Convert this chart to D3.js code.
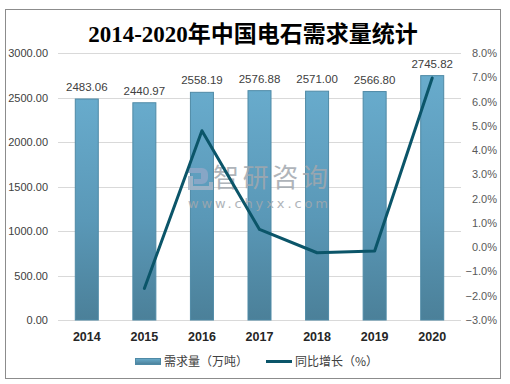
<!DOCTYPE html>
<html><head><meta charset="utf-8">
<script src="https://cdn.jsdelivr.net/npm/d3@7/dist/d3.min.js"></script>
<style>
html,body{margin:0;padding:0;background:#fff;}
svg{display:block;}
</style></head>
<body>
<svg id="chart" width="510" height="384"></svg>
<script>
const years = ["2014","2015","2016","2017","2018","2019","2020"];
const demand = [2483.06, 2440.97, 2558.19, 2576.88, 2571.00, 2566.80, 2745.82];
const growthYears = ["2015","2016","2017","2018","2019","2020"];
const growth = [-1.70, 4.80, 0.73, -0.23, -0.16, 6.97];
const leftTicks = [0, 500, 1000, 1500, 2000, 2500, 3000];
const rightTicks = [-3, -2, -1, 0, 1, 2, 3, 4, 5, 6, 7, 8];
const title = "2014-2020年中国电石需求量统计";
const legendLabels = ["需求量（万吨）", "同比增长（%）"];

const svg = d3.select("#chart");
const plot = {l: 58, r: 461, t: 53, b: 320};

// border
svg.append("rect").attr("x", 5.5).attr("y", 9.5).attr("width", 495).attr("height", 369)
  .attr("fill", "#fff").attr("stroke", "#8c8c8c").attr("stroke-width", 1);

const defs = svg.append("defs");
const grad = defs.append("linearGradient").attr("id", "barGrad")
  .attr("x1", 0).attr("y1", 0).attr("x2", 0).attr("y2", 1);
grad.append("stop").attr("offset", "0%").attr("stop-color", "#68abcc");
grad.append("stop").attr("offset", "55%").attr("stop-color", "#5a98b7");
grad.append("stop").attr("offset", "100%").attr("stop-color", "#4b8099");
const lgrad = defs.append("linearGradient").attr("id", "legGrad")
  .attr("x1", 0).attr("y1", 0).attr("x2", 0).attr("y2", 1);
lgrad.append("stop").attr("offset", "0%").attr("stop-color", "#6aaccc");
lgrad.append("stop").attr("offset", "100%").attr("stop-color", "#4b8099");

const x = d3.scaleBand().domain(years).range([plot.l, plot.r]).paddingInner(0).paddingOuter(0);
const yL = d3.scaleLinear().domain([0, 3000]).range([plot.b, plot.t]);
const yR = d3.scaleLinear().domain([-3, 8]).range([plot.b, plot.t]);

// title
svg.append("text").attr("x", 253).attr("y", 42).attr("text-anchor", "middle")
  .attr("font-family", "'Liberation Serif','Noto Sans CJK SC',serif")
  .attr("font-weight", "bold").attr("font-size", 23).attr("fill", "#000")
  .text(title);

// gridlines
svg.append("g").selectAll("line").data(leftTicks).join("line")
  .attr("x1", plot.l).attr("x2", plot.r)
  .attr("y1", d => Math.round(yL(d)) + 0.5).attr("y2", d => Math.round(yL(d)) + 0.5)
  .attr("stroke", "#d9d9d9").attr("stroke-width", 1);

// left axis
const leftAxis = d3.axisLeft(yL).tickValues(leftTicks).tickFormat(d3.format(".2f")).tickSize(0).tickPadding(10);
const gL = svg.append("g").attr("transform", `translate(${plot.l},0)`).call(leftAxis);
gL.select(".domain").remove();
gL.selectAll("text").attr("font-family", "'Liberation Sans',Arial,sans-serif")
  .attr("font-size", 11).attr("fill", "#404040");

// right axis
const rightAxis = d3.axisRight(yR).tickValues(rightTicks).tickFormat(d => d3.format(".1f")(d) + "%").tickSize(0).tickPadding(0);
const gR = svg.append("g").attr("transform", `translate(497,0)`).call(rightAxis);
gR.select(".domain").remove();
gR.selectAll("text").attr("font-family", "'Liberation Sans',Arial,sans-serif")
  .attr("font-size", 11).attr("fill", "#595959").attr("text-anchor", "end");

// bottom axis
const bottomAxis = d3.axisBottom(x).tickSize(0).tickPadding(12);
const gB = svg.append("g").attr("transform", `translate(0,${plot.b})`).call(bottomAxis);
gB.select(".domain").remove();
gB.selectAll("text").attr("font-family", "'Liberation Sans',Arial,sans-serif")
  .attr("font-size", 12.5).attr("font-weight", "bold").attr("fill", "#262626");

// bars
const bw = 24;
svg.append("g").selectAll("rect").data(demand).join("rect")
  .attr("x", (d, i) => x(years[i]) + x.bandwidth() / 2 - bw / 2 + 0.5)
  .attr("y", d => yL(d))
  .attr("width", bw - 1)
  .attr("height", d => plot.b - yL(d))
  .attr("fill", "url(#barGrad)")
  .attr("stroke", "#4f8aa6").attr("stroke-width", 1);

// value labels
svg.append("g").selectAll("text").data(demand).join("text")
  .attr("x", (d, i) => x(years[i]) + x.bandwidth() / 2)
  .attr("y", d => yL(d) - 8)
  .attr("text-anchor", "middle")
  .attr("font-family", "'Liberation Sans',Arial,sans-serif")
  .attr("font-size", 11.5).attr("fill", "#404040")
  .text(d => d3.format(".2f")(d));

// watermark
const wm = svg.append("g").attr("opacity", 0.85);
wm.append("path").attr("d", "M188,168 h14 a6,6 0 0 1 6,6 v4 a6,6 0 0 1 -6,6 h-8 v-5 h7 v-6 h-13 z")
  .attr("fill", "#8fa8c8");
wm.append("path").attr("d", "M188,176 h5 v10 h16 v-4 h4 v8 h-25 z").attr("fill", "#a6b6c8");
wm.append("text").attr("x", 213).attr("y", 187).attr("font-family", "'Noto Sans CJK SC',sans-serif")
  .attr("font-size", 26).attr("fill", "#a2a8ae").attr("textLength", 115).text("智研咨询");
wm.append("text").attr("x", 188).attr("y", 208).attr("font-family", "'DejaVu Sans',sans-serif")
  .attr("font-size", 13).attr("fill", "#a2a8ae").attr("textLength", 140).attr("lengthAdjust", "spacing")
  .text("www.chyxx.com");

// line
const line = d3.line()
  .x((d, i) => x(growthYears[i]) + x.bandwidth() / 2)
  .y(d => yR(d));
svg.append("path").datum(growth).attr("d", line)
  .attr("fill", "none").attr("stroke", "#0b5569").attr("stroke-width", 3)
  .attr("stroke-linejoin", "round").attr("stroke-linecap", "round");

// legend
const lg = svg.append("g");
lg.append("rect").attr("x", 135.5).attr("y", 358.5).attr("width", 25).attr("height", 6)
  .attr("fill", "url(#legGrad)").attr("stroke", "#4f8aa6").attr("stroke-width", 1);
lg.append("text").attr("x", 164).attr("y", 366).attr("font-family", "'Noto Sans CJK SC',sans-serif")
  .attr("font-size", 12).attr("fill", "#404040").text(legendLabels[0]);
lg.append("line").attr("x1", 266).attr("x2", 292).attr("y1", 361.5).attr("y2", 361.5)
  .attr("stroke", "#0b5569").attr("stroke-width", 3);
lg.append("text").attr("x", 295).attr("y", 366).attr("font-family", "'Noto Sans CJK SC',sans-serif")
  .attr("font-size", 12).attr("fill", "#404040").text(legendLabels[1]);
</script>
</body></html>
